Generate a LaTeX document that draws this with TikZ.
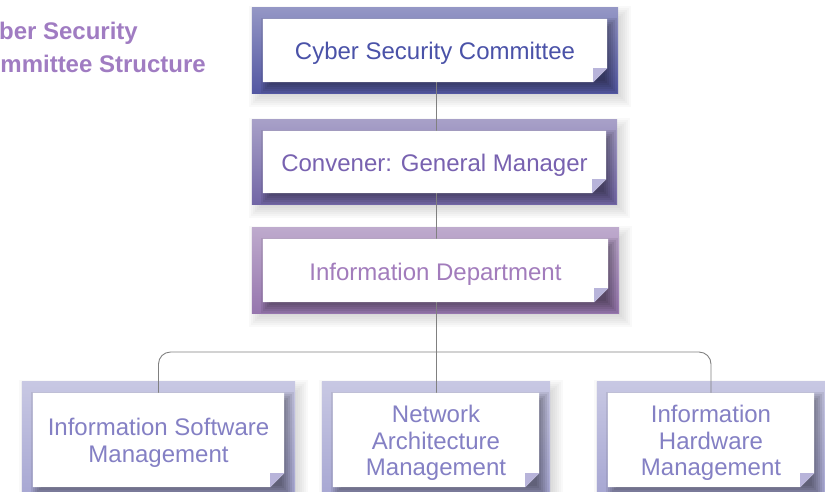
\documentclass[tikz,border=0pt]{standalone}
\usepackage{fontspec}
\setmainfont{Liberation Sans}
\pgfdeclarelayer{bg}
\pgfdeclarelayer{frame}
\pgfdeclarelayer{lines}
\pgfdeclarelayer{paper}
\pgfsetlayers{bg,frame,lines,paper,main}
\definecolor{fA}{HTML}{5357A2}
\definecolor{fB}{HTML}{7266A6}
\definecolor{fC}{HTML}{9676AE}
\definecolor{fD}{HTML}{A6A6D2}
\definecolor{tA}{HTML}{4A52A8}
\definecolor{tB}{HTML}{7862B0}
\definecolor{tC}{HTML}{A27CBC}
\definecolor{tD}{HTML}{8480C4}
\definecolor{foldc}{HTML}{B8B4DA}
\definecolor{titlec}{HTML}{A07CC2}
\definecolor{linec}{HTML}{808080}
\tikzset{
  wbox/.style={rectangle, inner sep=0pt},
  txt/.style={inner sep=0pt, align=center, font=\fontsize{24}{26.5}\selectfont},
  conn/.style={draw=linec, line width=0.9pt},
}
% #1 node name, #2 frame colour
\newcommand\paperframe[2]{%
  \begin{pgfonlayer}{bg}
    \foreach \k in {-8,-6,...,8}{
      \fill[black, opacity=0.022]
        ([shift={(-11+5-\k,-11+6-\k)}]#1.north west) rectangle ([shift={(11+5+\k,11+6+\k)}]#1.south east);}
  \end{pgfonlayer}
  \begin{pgfonlayer}{frame}
    \path[top color=#2!62!white, bottom color=#2]
      ([shift={(-11,-11)}]#1.north west) rectangle ([shift={(11,11)}]#1.south east);
    \begin{scope}
      \clip ([shift={(-11,-11)}]#1.north west) rectangle ([shift={(11,11)}]#1.south east);
      \foreach \k in {-6,-4,...,6}{
        \fill[black, opacity=0.075]
          ([shift={(4-\k,5-\k)}]#1.north west) rectangle ([shift={(4+\k,5+\k)}]#1.south east);}
    \end{scope}
  \end{pgfonlayer}
  \begin{pgfonlayer}{paper}
    \path[fill=white]
      (#1.north west) -- (#1.north east) -- ([shift={(0,-14)}]#1.south east)
      -- ([shift={(-14,0)}]#1.south east) -- (#1.south west) -- cycle;
    \path[fill=foldc] ([shift={(-14,-14)}]#1.south east) -- ([shift={(0,-14)}]#1.south east)
      -- ([shift={(-14,0)}]#1.south east) -- cycle;
  \end{pgfonlayer}}
\begin{document}
\begin{tikzpicture}[x=1pt,y=-1pt]
\useasboundingbox (0,0) rectangle (825,491);
\node[anchor=north east, inner sep=0pt, align=left, text=titlec,
  font=\bfseries\fontsize{24}{33}\selectfont] (title) at (206,22)
  {Cyber Security\\Committee Structure};

\node[wbox, minimum width=344, minimum height=63] (b1) at (435,50.5) {};
\node[wbox, minimum width=343, minimum height=62] (b2) at (434.5,162) {};
\node[wbox, minimum width=345, minimum height=63] (b3) at (435.5,270.5) {};
\node[wbox, minimum width=251, minimum height=94] (b4) at (158.5,440) {};
\node[wbox, minimum width=206, minimum height=94] (b5) at (436,440) {};
\node[wbox, minimum width=206, minimum height=94] (b6) at (711,440) {};

\node[txt, text=tA] (t1) at ([shift={(0,3)}]b1.center) {Cyber Security Committee};
\node[txt, text=tB] (t2) at ([shift={(0,3)}]b2.center) {Convener: General Manager};
\node[txt, text=tC] (t3) at ([shift={(0,4)}]b3.center) {Information Department};
\node[txt, text=tD] (t4) at ([shift={(0,3)}]b4.center) {Information Software\\Management};
\node[txt, text=tD] (t5) at ([shift={(0,3)}]b5.center) {Network\\Architecture\\Management};
\node[txt, text=tD] (t6) at ([shift={(0,3)}]b6.center) {Information\\Hardware\\Management};

\paperframe{b1}{fA}
\paperframe{b2}{fB}
\paperframe{b3}{fC}
\paperframe{b4}{fD}
\paperframe{b5}{fD}
\paperframe{b6}{fD}

\coordinate (j) at (436,352);
\begin{pgfonlayer}{lines}
  \draw[conn] (b1.south -| j) -- (b2.north -| j);
  \draw[conn] (b2.south -| j) -- (b3.north -| j);
  \draw[conn] (b3.south -| j) -- (j);
  \draw[conn, rounded corners=12pt] (b4.north) |- (j) -| (b6.north);
  \draw[conn] (j) -- (b5.north);
\end{pgfonlayer}
\end{tikzpicture}
\end{document}
